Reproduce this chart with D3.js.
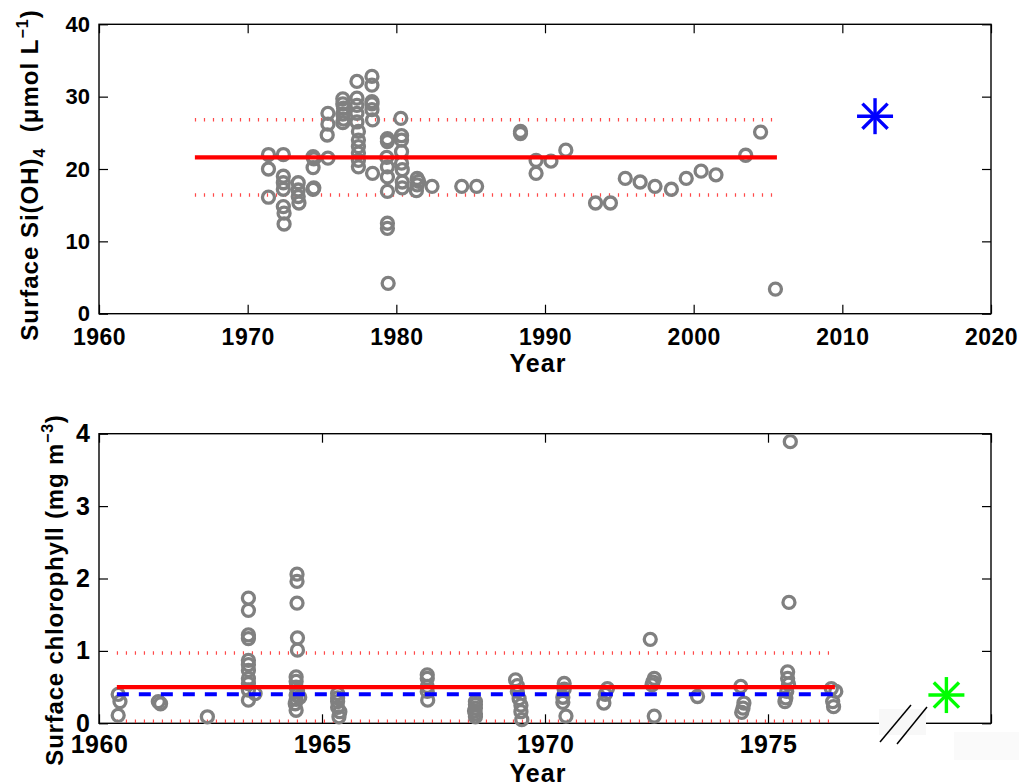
<html>
<head>
<meta charset="UTF-8">
<script src="https://cdnjs.cloudflare.com/ajax/libs/d3/7.8.5/d3.min.js"></script>
<style>
  body { margin: 0; background: #fff; }
  svg text { font-family: "Liberation Sans", Arial, sans-serif; font-weight: bold; fill: #000; }
</style>
</head>
<body>
<script>
// ---- top panel: surface silicate ----
var siYear = [1971.4,1971.4,1971.4,
  1972.4,1972.4,1972.4,1972.4,1972.4,1972.45,1972.45,
  1973.4,1973.4,1973.4,1973.45,
  1974.4,1974.45,1974.4,1974.4,1974.45,
  1975.4,1975.4,1975.35,1975.4,
  1976.4,1976.4,1976.45,1976.4,1976.45,1976.4,
  1977.35,1977.35,1977.35,1977.35,1977.35,1977.45,1977.45,1977.45,1977.45,1977.45,1977.45,
  1978.36,1978.36,1978.36,1978.36,1978.4,1978.4,1978.36,
  1979.4,1979.4,1979.35,1979.4,1979.4,1979.4,1979.4,1979.4,1979.45,
  1980.3,1980.35,1980.35,1980.35,1980.35,1980.4,1980.4,1980.4,
  1981.4,1981.4,1981.35,1981.5,
  1982.4,1984.4,1985.4,
  1988.35,1988.35,1989.4,1989.4,1990.4,1991.4,
  1993.4,1994.4,1995.4,1996.4,1997.4,1998.5,1999.5,2000.5,2001.5,
  2003.5,2004.5,2005.5];
var siValue = [22.0,20.0,16.1,
  22.0,19.0,18.1,17.2,14.8,13.9,12.4,
  18.1,17.1,16.2,15.3,
  21.7,21.4,20.2,17.2,17.4,
  27.7,26.2,24.7,21.5,
  29.7,29.0,28.4,27.6,26.9,26.4,
  32.1,29.8,28.8,27.7,26.5,25.2,24.0,23.1,22.2,21.2,20.3,
  32.8,31.6,29.3,28.2,26.8,19.4,29.0,
  24.2,23.8,21.6,20.3,18.9,16.9,12.5,11.8,4.2,
  27.0,24.6,24.0,22.4,20.8,19.9,18.2,17.4,
  18.7,17.8,17.0,18.3,
  17.6,17.6,17.6,
  25.2,24.9,21.2,19.4,21.1,22.6,
  15.3,15.3,18.7,18.2,17.6,17.2,18.7,19.7,19.2,
  21.9,25.1,3.4];
var siMean = 21.6, siSd = 5.2, siSpan = [1966.45, 2005.6];
var siNew = [2012.2, 27.3];

// ---- bottom panel: surface chlorophyll ----
var chlYear = [1960.43,1960.47,1960.43,
  1961.33,1961.38,
  1962.43,
  1963.35,1963.35,1963.35,1963.35,1963.35,1963.35,1963.35,1963.35,1963.35,1963.35,1963.35,1963.5,
  1964.44,1964.44,1964.44,1964.45,1964.45,1964.42,1964.42,1964.42,1964.42,1964.42,1964.42,1964.5,1964.45,1964.4,
  1965.35,1965.35,1965.35,1965.35,1965.4,1965.38,
  1967.36,1967.36,1967.36,1967.36,1967.37,
  1968.44,1968.44,1968.44,1968.42,1968.44,1968.44,
  1969.34,1969.38,1969.38,1969.42,1969.46,1969.46,1969.48,
  1970.43,1970.43,1970.4,1970.4,1970.47,
  1971.4,1971.35,1971.32,
  1972.36,1972.45,1972.42,1972.4,1972.45,
  1973.42,
  1974.39,1974.46,1974.44,1974.41,
  1975.5,1975.47,1975.44,1975.44,1975.46,1975.42,1975.4,1975.38,
  1976.42,1976.52,1976.45,1976.47];
var chlValue = [0.40,0.30,0.11,
  0.30,0.27,
  0.09,
  1.73,1.56,1.22,1.17,0.87,0.81,0.73,0.62,0.55,0.46,0.32,0.41,
  2.06,1.96,1.66,1.18,1.01,0.64,0.58,0.50,0.39,0.33,0.18,0.36,0.45,0.27,
  0.41,0.35,0.30,0.22,0.16,0.09,
  0.67,0.62,0.51,0.44,0.32,
  0.30,0.26,0.21,0.17,0.13,0.09,
  0.60,0.52,0.44,0.34,0.25,0.16,0.05,
  0.55,0.47,0.36,0.29,0.10,
  0.48,0.40,0.28,
  1.16,0.62,0.57,0.53,0.10,
  0.37,
  0.51,0.28,0.21,0.15,
  3.89,1.67,0.71,0.62,0.54,0.44,0.35,0.30,
  0.48,0.44,0.30,0.23];
var chlMean = 0.50, chlMedian = 0.40, chlSd = 0.47, chlSpan = [1960.4, 1976.5];
var chlNew = [1979.0, 0.39];

var width = 1019, height = 784;
var svg = d3.select("body").append("svg")
    .attr("width", width)
    .attr("height", height);

var grey = "#808080";

function panel(opt) {
  var x = d3.scaleLinear().domain(opt.xDomain).range([99, 991]);
  var y = d3.scaleLinear().domain(opt.yDomain).range([opt.bottom, opt.top]);
  var g = svg.append("g");

  // axes with inward ticks
  var ax = g.append("g").attr("transform", "translate(0," + opt.bottom + ")")
      .call(d3.axisBottom(x).tickValues(opt.xTicks).tickSizeInner(-9).tickSizeOuter(0)
        .tickPadding(opt.xPad).tickFormat(d3.format("d")));
  ax.selectAll("text").style("font-size", opt.xFont + "px").style("letter-spacing", "0.5px");
  g.append("g").attr("transform", "translate(0," + opt.top + ")")
      .call(d3.axisTop(x).tickValues(opt.xTicks).tickSizeInner(-9).tickSizeOuter(0).tickFormat(""));
  var ay = g.append("g").attr("transform", "translate(99,0)")
      .call(d3.axisLeft(y).tickValues(opt.yTicks).tickSizeInner(-9).tickSizeOuter(0).tickPadding(9)
        .tickFormat(d3.format("d")));
  ay.selectAll("text").style("font-size", opt.yFont + "px");
  g.append("g").attr("transform", "translate(991,0)")
      .call(d3.axisRight(y).tickValues(opt.yTicks).tickSizeInner(-9).tickSizeOuter(0).tickFormat(""));
  g.selectAll(".domain").remove();
  g.selectAll(".tick line").attr("stroke", "#000").attr("stroke-width", 1.2);
  g.selectAll(".tick text").attr("font-family", null).attr("font-size", null);

  g.append("rect")
      .attr("x", 99).attr("y", opt.top)
      .attr("width", 892).attr("height", opt.bottom - opt.top)
      .attr("fill", "none").attr("stroke", "#000").attr("stroke-width", 1.4);

  // mean and +/- sd lines
  var sx = opt.span;
  [opt.mean + opt.sd, opt.mean - opt.sd].forEach(function (v) {
    g.append("line")
        .attr("x1", x(sx[0])).attr("x2", x(sx[1]))
        .attr("y1", y(v)).attr("y2", y(v))
        .attr("stroke", "#ff2a2a").attr("stroke-width", 3.5)
        .attr("stroke-dasharray", "1.2,7.8").attr("opacity", 0.85);
  });

  // data circles
  g.append("g").selectAll("circle")
      .data(d3.zip(opt.years, opt.values))
      .enter().append("circle")
      .attr("cx", function (d) { return x(d[0]); })
      .attr("cy", function (d) { return y(d[1]); })
      .attr("r", 6)
      .attr("fill", "none")
      .attr("stroke", grey)
      .attr("stroke-width", 3.3);

  g.append("line")
      .attr("x1", x(sx[0])).attr("x2", x(sx[1]))
      .attr("y1", y(opt.mean)).attr("y2", y(opt.mean))
      .attr("stroke", "#ff0000").attr("stroke-width", 4.2);

  if (opt.median !== undefined) {
    g.append("line")
        .attr("x1", x(sx[0])).attr("x2", x(sx[1]))
        .attr("y1", y(opt.median)).attr("y2", y(opt.median))
        .attr("stroke", "#0000ff").attr("stroke-width", 4)
        .attr("stroke-dasharray", "12,10");
  }

  // asterisk marker for the new value
  var cx = x(opt.star[0]), cy = y(opt.star[1]), s = 18;
  var star = g.append("g").attr("stroke", opt.starColor).attr("stroke-width", 3.4);
  [[-s, 0, s, 0], [0, -s, 0, s], [-s * 0.7, -s * 0.7, s * 0.7, s * 0.7], [-s * 0.7, s * 0.7, s * 0.7, -s * 0.7]]
    .forEach(function (l) {
      star.append("line")
          .attr("x1", cx + l[0]).attr("y1", cy + l[1])
          .attr("x2", cx + l[2]).attr("y2", cy + l[3]);
    });

  g.append("text")
      .attr("x", 538).attr("y", opt.yearY)
      .attr("text-anchor", "middle")
      .style("font-size", "25px")
      .style("letter-spacing", "1px")
      .text("Year");

  return {g: g, x: x, y: y};
}

var top = panel({
  xDomain: [1960, 2020], yDomain: [0, 40], top: 24.3, bottom: 313.7,
  xTicks: [1960, 1970, 1980, 1990, 2000, 2010, 2020], yTicks: [0, 10, 20, 30, 40],
  xPad: 15, xFont: 23, yFont: 22,
  years: siYear, values: siValue, mean: siMean, sd: siSd, span: siSpan,
  star: siNew, starColor: "#0000ff", yearY: 372
});

var bot = panel({
  xDomain: [1960, 1980], yDomain: [0, 4], top: 433.7, bottom: 723.3,
  xTicks: [1960, 1965, 1970, 1975, 1980], yTicks: [0, 1, 2, 3, 4],
  xPad: 12, xFont: 25, yFont: 25,
  years: chlYear, values: chlValue, mean: chlMean, sd: chlSd, median: chlMedian, span: chlSpan,
  star: chlNew, starColor: "#00ff00", yearY: 782
});

// axis break on the lower panel, and the patch that hides the 1980 label
svg.append("rect").attr("x", 879).attr("y", 709).attr("width", 47).attr("height", 26).attr("fill", "#f8f8f8");
svg.append("line").attr("x1", 880).attr("y1", 742).attr("x2", 911).attr("y2", 705).attr("stroke", "#000").attr("stroke-width", 1.5);
svg.append("line").attr("x1", 897).attr("y1", 744).attr("x2", 927).attr("y2", 707).attr("stroke", "#000").attr("stroke-width", 1.5);
svg.append("rect").attr("x", 954).attr("y", 732).attr("width", 65).attr("height", 28).attr("fill", "#fafafa");

// y axis titles
var t1 = svg.append("text")
    .attr("transform", "translate(38,175) rotate(-90)")
    .attr("text-anchor", "middle")
    .style("font-size", "24px")
    .style("letter-spacing", "1px")
    .style("white-space", "pre");
t1.append("tspan").text("Surface Si(OH)");
t1.append("tspan").attr("dy", 7).style("font-size", "16px").text("4");
t1.append("tspan").attr("dy", -7).text("  (μmol L");
t1.append("tspan").attr("dy", -10).style("font-size", "16px").text("−1");
t1.append("tspan").attr("dy", 10).text(")");

var t2 = svg.append("text")
    .attr("transform", "translate(63,590) rotate(-90)")
    .attr("text-anchor", "middle")
    .style("font-size", "24px")
    .style("letter-spacing", "0.8px")
    .style("white-space", "pre");
t2.append("tspan").text("Surface chlorophyll (mg m");
t2.append("tspan").attr("dy", -10).style("font-size", "16px").text("−3");
t2.append("tspan").attr("dy", 10).text(")");
</script>
</body>
</html>
